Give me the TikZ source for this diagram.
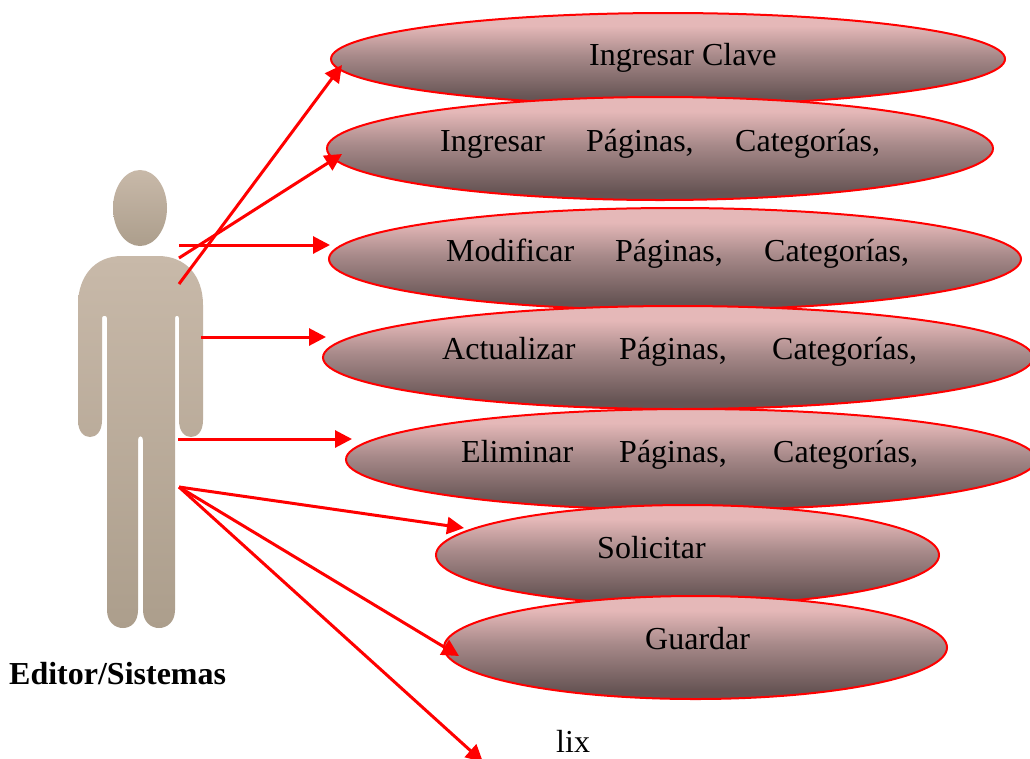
\documentclass[tikz,border=0pt]{standalone}
\usepackage{fontspec}
\setmainfont{Liberation Serif}
\usetikzlibrary{arrows.meta,shapes.geometric}
\definecolor{uctop}{HTML}{E5B8B8}
\definecolor{ucmid}{HTML}{A88A8A}
\definecolor{ucbot}{HTML}{665454}
\definecolor{mantop}{HTML}{C8B9A9}
\definecolor{manbot}{HTML}{AC9E8C}
\pgfdeclareverticalshading{ucshade}{100bp}{color(0bp)=(ucbot);color(25bp)=(ucbot);color(29bp)=(ucbot);color(52bp)=(ucmid);color(68bp)=(uctop);color(100bp)=(uctop)}
\pgfdeclareverticalshading{manshade}{100bp}{color(0bp)=(manbot);color(25bp)=(manbot);color(75bp)=(mantop);color(100bp)=(mantop)}
\tikzset{
  usecase/.style={ellipse,draw=red,line width=2pt,inner sep=0pt,shading=ucshade,shading angle=0},
  rowtext/.style={anchor=base west,inner sep=0pt,font=\fontsize{32}{35}\selectfont},
  link/.style={draw=red,line width=3pt,-{Triangle[length=17pt,width=17pt]}},
  personpart/.style={shading=manshade,draw=none}
}
\newcommand{\wordat}[2]{\makebox[#1pt][l]{#2}}
\begin{document}
\begin{tikzpicture}[x=1pt,y=-1pt]
\useasboundingbox (0,0) rectangle (1030,758);
\clip (0,0) rectangle (1030,758);
\fill[white] (0,0) rectangle (1030,758);
% person
\shade[personpart] (140,208) ellipse [x radius=27,y radius=38];
\shade[personpart]
  (122,256) -- (158,256)
  .. controls (186,256) and (203,276) .. (203,305)
  -- (203,420) .. controls (203,432) and (197,437) .. (191,437)
  .. controls (185,437) and (179,432) .. (179,420)
  -- (179,318) .. controls (179,315) and (175,315) .. (175,318)
  -- (175,610) .. controls (175,622) and (167,628) .. (159,628)
  .. controls (151,628) and (143,622) .. (143,610)
  -- (143,440) .. controls (143,435) and (138,435) .. (138,440)
  -- (138,610) .. controls (138,622) and (131,628) .. (123,628)
  .. controls (115,628) and (107,622) .. (107,610)
  -- (107,318) .. controls (107,315) and (102,315) .. (102,318)
  -- (102,420) .. controls (102,432) and (96,437) .. (90,437)
  .. controls (84,437) and (78,432) .. (78,420)
  -- (78,305) .. controls (78,276) and (95,256) .. (122,256) -- cycle;
% use cases
\node[usecase,minimum width=674pt,minimum height=92pt] (uc1) at (668,59) {};
\node[usecase,minimum width=666pt,minimum height=103pt] (uc2) at (660,148.5) {};
\node[usecase,minimum width=692pt,minimum height=102pt] (uc3) at (675,259) {};
\node[usecase,minimum width=710pt,minimum height=103pt] (uc4) at (678,357.5) {};
\node[usecase,minimum width=690pt,minimum height=101pt] (uc5) at (691,459.5) {};
\node[usecase,minimum width=503pt,minimum height=100pt] (uc6) at (687.5,555) {};
\node[usecase,minimum width=503pt,minimum height=103pt] (uc7) at (695.5,647.5) {};
% texts
\node[rowtext] (t1) at (589,65) {Ingresar Clave};
\node[rowtext] (t2) at (440,151) {\wordat{146}{Ingresar}\wordat{149}{Páginas,}Categorías,};
\node[rowtext] (t3) at (446,261) {\wordat{169}{Modificar}\wordat{149}{Páginas,}Categorías,};
\node[rowtext] (t4) at (442,359) {\wordat{177}{Actualizar}\wordat{153}{Páginas,}Categorías,};
\node[rowtext] (t5) at (461,462) {\wordat{158}{Eliminar}\wordat{154}{Páginas,}Categorías,};
\node[rowtext] (t6) at (597,558) {Solicitar};
\node[rowtext] (t7) at (645,649) {Guardar};
\node[rowtext] (t8) at (556,752.5) {lix};
\node[rowtext,font=\fontsize{32}{35}\selectfont\bfseries] (actor) at (9,684) {Editor/Sistemas};
% connector anchors
\coordinate (s1) at (179,284);
\coordinate (s2) at (179,258);
\coordinate (s3) at (179,245);
\coordinate (s4) at (201,337);
\coordinate (s5) at (178,439);
\coordinate (s6) at (179,487);
\coordinate (e1) at (342,65);
\coordinate (e2) at (342,154);
\coordinate (e3) at (330,245);
\coordinate (e4) at (326,337);
\coordinate (e5) at (352,439);
\coordinate (e6) at (464,528);
\coordinate (e7) at (459,656);
\coordinate (e8) at (483,762);
\draw[link] (s1) -- (e1);
\draw[link] (s2) -- (e2);
\draw[link] (s3) -- (e3);
\draw[link] (s4) -- (e4);
\draw[link] (s5) -- (e5);
\draw[link] (s6) -- (e6);
\draw[link] (s6) -- (e7);
\draw[link] (s6) -- (e8);
\end{tikzpicture}
\end{document}
